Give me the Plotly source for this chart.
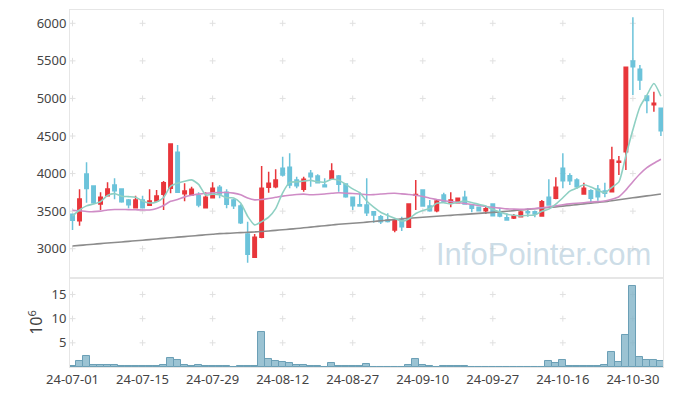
import pandas as pd
import plotly.graph_objects as go
from plotly.subplots import make_subplots

# ---- categories: Korean trading days ----
holidays = ["2024-08-15", "2024-09-16", "2024-09-17", "2024-09-18",
            "2024-10-01", "2024-10-03", "2024-10-09"]
days = [d for d in pd.bdate_range("2024-07-01", "2024-11-05")
        if d.strftime("%Y-%m-%d") not in holidays]
dates = [d.strftime("%y-%m-%d") for d in days]

# ---- OHLC ----
open_ = [3460, 3373, 3994, 3835, 3595, 3706, 3848, 3795, 3648, 3546,
         3648, 3577, 3635, 3724, 3804, 4283, 3732, 3715, 3706, 3546,
         3679, 3817, 3750, 3648, 3568, 3196, 2886, 3152, 3817, 3825,
         4070, 4083, 3914, 3790, 4004, 3968, 3848, 3924, 3968, 3861,
         3684, 3585, 3582, 3492, 3426, 3382, 3249, 3382, 3285, 3710,
         3781, 3568, 3506, 3715, 3604, 3612, 3684, 3582, 3551, 3506,
         3595, 3471, 3413, 3409, 3426, 3492, 3492, 3435, 3684, 3670,
         4070, 3972, 3914, 3728, 3772, 3790, 3768, 3759, 4150, 4291,
         5498, 5388, 5033, 4917, 4868]
high = [3470, 3790, 4150, 3840, 3750, 3884, 3937, 3800, 3660, 3706,
        3706, 3790, 3780, 3901, 4400, 4380, 3870, 3825, 3750, 3750,
        3884, 3848, 3790, 3660, 3590, 3359, 3196, 4101, 4025, 4057,
        4225, 4270, 3958, 3958, 4047, 3990, 3937, 4137, 3980, 3870,
        3690, 3750, 3937, 3500, 3448, 3471, 3390, 3426, 3600, 3914,
        3790, 3648, 3650, 3746, 3750, 3680, 3772, 3590, 3560, 3568,
        3600, 3537, 3471, 3462, 3506, 3537, 3510, 3648, 3924, 3950,
        4270, 4004, 3937, 3879, 3790, 3848, 3879, 4358, 4234, 5420,
        6080, 5446, 5045, 5090, 4880]
low = [3250, 3306, 3612, 3595, 3515, 3700, 3657, 3612, 3537, 3540,
       3540, 3570, 3625, 3515, 3737, 3740, 3631, 3700, 3551, 3540,
       3670, 3670, 3537, 3528, 3329, 2814, 2880, 3140, 3746, 3804,
       3960, 3804, 3804, 3759, 3825, 3870, 3820, 3915, 3759, 3679,
       3515, 3560, 3435, 3346, 3329, 3350, 3218, 3236, 3275, 3515,
       3560, 3492, 3484, 3610, 3551, 3600, 3590, 3484, 3495, 3462,
       3430, 3420, 3380, 3395, 3420, 3426, 3418, 3430, 3575, 3657,
       3804, 3848, 3795, 3720, 3612, 3639, 3684, 3750, 3981, 4047,
       5047, 5113, 4802, 4823, 4500]
close = [3380, 3660, 3800, 3612, 3684, 3795, 3772, 3626, 3586, 3648,
         3546, 3635, 3701, 3879, 4393, 3751, 3768, 3790, 3582, 3684,
         3804, 3728, 3591, 3572, 3346, 2925, 3152, 3804, 3870, 3914,
         3981, 3848, 3839, 3924, 3958, 3879, 3825, 4034, 3857, 3692,
         3572, 3568, 3479, 3448, 3359, 3362, 3373, 3293, 3595, 3720,
         3568, 3506, 3635, 3626, 3648, 3670, 3595, 3537, 3506, 3532,
         3440, 3435, 3382, 3435, 3488, 3479, 3462, 3626, 3582, 3817,
         3905, 3905, 3825, 3804, 3670, 3692, 3737, 4181, 4165, 5414,
         5422, 5246, 4971, 4937, 4571]

# ---- moving averages ----
ma5 = [3435, 3515, 3570, 3595, 3627, 3710, 3733, 3698, 3693, 3685,
       3636, 3608, 3623, 3682, 3831, 3872, 3898, 3916, 3857, 3715,
       3726, 3718, 3678, 3676, 3608, 3432, 3317, 3360, 3419, 3533,
       3744, 3883, 3890, 3901, 3910, 3890, 3885, 3924, 3911, 3857,
       3796, 3745, 3634, 3552, 3485, 3443, 3404, 3367, 3396, 3469,
       3510, 3536, 3605, 3611, 3597, 3617, 3635, 3615, 3591, 3568,
       3522, 3490, 3459, 3445, 3436, 3444, 3449, 3498, 3527, 3593,
       3678, 3767, 3807, 3851, 3822, 3779, 3746, 3817, 3889, 4238,
       4584, 4886, 5044, 5198, 5029]
ma20 = [3512, 3505, 3495, 3493, 3500, 3515, 3522, 3522, 3520, 3518,
        3515, 3515, 3535, 3575, 3630, 3655, 3690, 3712, 3726, 3737,
        3745, 3748, 3748, 3740, 3718, 3675, 3650, 3655, 3668, 3684,
        3700, 3712, 3722, 3727, 3718, 3722, 3728, 3737, 3745, 3738,
        3735, 3728, 3718, 3720, 3728, 3735, 3737, 3730, 3722, 3712,
        3695, 3672, 3655, 3638, 3628, 3615, 3602, 3588, 3575, 3562,
        3550, 3540, 3530, 3527, 3525, 3528, 3535, 3545, 3556, 3570,
        3585, 3597, 3605, 3612, 3620, 3626, 3635, 3658, 3692, 3781,
        3892, 3994, 4078, 4137, 4190]
ma120 = [3036, 3044, 3052, 3060, 3068, 3075, 3083, 3090, 3098, 3106,
         3113, 3121, 3130, 3138, 3146, 3154, 3161, 3169, 3177, 3185,
         3192, 3200, 3204, 3209, 3214, 3218, 3223, 3228, 3236, 3244,
         3252, 3260, 3268, 3278, 3287, 3297, 3306, 3316, 3325, 3332,
         3338, 3345, 3354, 3362, 3371, 3380, 3388, 3397, 3405, 3412,
         3418, 3425, 3431, 3438, 3444, 3451, 3457, 3464, 3470, 3477,
         3483, 3490, 3498, 3507, 3515, 3523, 3532, 3540, 3549, 3557,
         3567, 3577, 3587, 3596, 3606, 3616, 3626, 3639, 3652, 3664,
         3677, 3690, 3703, 3715, 3728]

# ---- volume (millions) ----
volume = [0.25, 1.24, 2.2, 0.4, 0.4, 0.38, 0.4, 0.2, 0.2, 0.2,
          0.2, 0.2, 0.2, 0.4, 1.8, 1.38, 0.4, 0.2, 0.4, 0.2,
          0.2, 0.2, 0.2, 0.05, 0.2, 0.2, 0.2, 7.17, 1.59, 1.24,
          1.03, 0.76, 0.4, 0.4, 0.2, 0.2, 0.1, 0.8, 0.2, 0.2,
          0.2, 0.2, 0.55, 0.05, 0.05, 0.05, 0.05, 0.05, 0.35, 1.6,
          0.45, 0.2, 0.05, 0.2, 0.2, 0.2, 0.2, 0.05, 0.05, 0.05,
          0.05, 0.05, 0.05, 0.05, 0.05, 0.05, 0.05, 0.05, 1.24, 0.76,
          1.45, 0.2, 0.2, 0.2, 0.2, 0.2, 0.4, 3.03, 0.97, 6.55,
          16.7, 2.0, 1.45, 1.45, 1.24]

price_ticks = [3000, 3500, 4000, 4500, 5000, 5500, 6000]
vol_ticks = [5, 10, 15]
tick_dates = dates[::10]

fig = make_subplots(rows=2, cols=1, shared_xaxes=True, vertical_spacing=0,
                    row_heights=[0.7507, 0.2493])

fig.add_trace(go.Candlestick(
    x=dates, open=open_, high=high, low=low, close=close,
    increasing=dict(line=dict(color="#e8363b", width=1.5), fillcolor="#e8363b"),
    decreasing=dict(line=dict(color="#6cc3da", width=1.5), fillcolor="#6cc3da"),
    whiskerwidth=0), row=1, col=1)

for ys, col in ((ma120, "#8c8c8c"), (ma20, "#cf8cc6"), (ma5, "#8fd0c3")):
    fig.add_trace(go.Scatter(x=dates, y=ys, mode="lines",
                             line=dict(color=col, width=1.6, shape="spline", smoothing=0.6),
                             hoverinfo="skip"), row=1, col=1)

fig.add_trace(go.Bar(x=dates, y=volume,
                     marker=dict(color="rgba(130,180,200,0.8)",
                                 line=dict(color="#6b9fb6", width=1))),
              row=2, col=1)

# small grid crosses at tick intersections, drawn beneath the data
for yt, xr, yr in ((price_ticks, "x", "y"), (vol_ticks, "x2", "y2")):
    for d in tick_dates:
        for v in yt:
            common = dict(type="line", xref=xr, yref=yr, layer="below",
                          xanchor=d, yanchor=v, xsizemode="pixel", ysizemode="pixel",
                          line=dict(color="#e0e0e0", width=1))
            fig.add_shape(x0=-3, x1=3, y0=0, y1=0, **common)
            fig.add_shape(x0=0, x1=0, y0=-3, y1=3, **common)

fig.add_annotation(text="InfoPointer.com", xref="paper", yref="paper",
                   x=0.798, y=0.3165, xanchor="center", yanchor="middle",
                   showarrow=False,
                   font=dict(family="Liberation Sans", size=31,
                             color="rgba(175,202,218,0.65)"))

axis_line = dict(showline=True, linecolor="#e6e6e6", mirror=True, linewidth=1,
                 showgrid=False, zeroline=False, automargin=False)
fig.update_xaxes(type="category", categoryorder="array", categoryarray=dates,
                 range=[-0.36, 84.3], ticks="", **axis_line)
fig.update_xaxes(showticklabels=False, rangeslider=dict(visible=False), row=1, col=1)
fig.update_xaxes(tickvals=tick_dates, ticktext=tick_dates, row=2, col=1)
fig.update_yaxes(ticks="", **axis_line)
fig.update_yaxes(range=[2610, 6177], tickvals=price_ticks, row=1, col=1)
fig.update_yaxes(range=[0, 18.4], tickvals=vol_ticks,
                 title=dict(text="10<sup>6</sup>", standoff=4), row=2, col=1)

fig.update_layout(width=673, height=396, margin=dict(l=70, r=10, t=10, b=29),
                  plot_bgcolor="white", paper_bgcolor="white", showlegend=False,
                  bargap=0,
                  font=dict(family="Noto Sans", size=13, color="#444"))

fig.write_html("out.html", config={"displayModeBar": False},
               post_script="document.body.style.margin='0';document.body.style.overflow='hidden';")
